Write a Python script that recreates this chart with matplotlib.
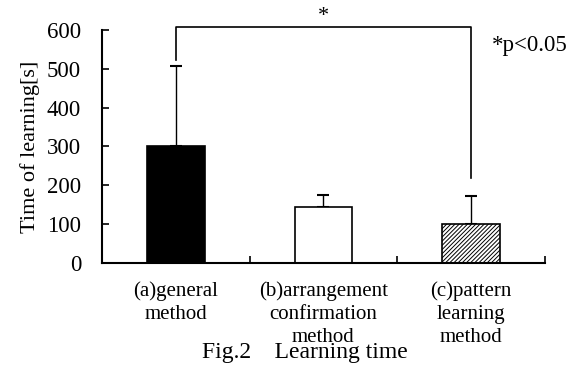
import numpy as np
import matplotlib.pyplot as plt

plt.rcParams['font.family'] = ['Liberation Serif', 'DejaVu Serif']

labels = ["(a)general\nmethod", "(b)arrangement\nconfirmation\nmethod", "(c)pattern\nlearning\nmethod"]
means = [300, 145, 100]
errs = [208, 30, 72]
colors = ["black", "white", "white"]
hatches = [None, None, "////////"]
yticks = [0, 100, 200, 300, 400, 500, 600]

fig = plt.figure(figsize=(5.79, 3.67), dpi=100)
ax = fig.add_axes([0.176, 0.2834, 0.765, 0.635])

x = np.arange(len(means)) + 0.5
plt.rcParams['hatch.color'] = '#555555'
plt.rcParams['hatch.linewidth'] = 0.7
for i in range(len(means)):
    ax.bar(x[i], means[i], width=0.39, color=colors[i], edgecolor="black",
           linewidth=1.2, hatch=hatches[i], zorder=2)
ax.errorbar(x, means, yerr=[np.zeros(3), errs], fmt="none", ecolor="black",
            elinewidth=1.0, capsize=4.5, capthick=1.5, zorder=1)

ax.set_xlim(0, 3)
ax.set_ylim(0, 600)
ax.set_yticks(yticks)
ax.set_xticks([1, 2, 3])
ax.set_xticklabels([])
ax.set_xticks(x, minor=True)
ax.set_xticklabels(labels, minor=True, fontsize=15, linespacing=1.3)
ax.tick_params(axis="x", which="minor", length=0, pad=13)
ax.tick_params(axis="x", which="major", direction="in", length=5, width=1.2)
ax.tick_params(axis="y", direction="in", length=5, width=1.2, labelsize=16.5, pad=15)
ax.spines["top"].set_visible(False)
ax.spines["right"].set_visible(False)
ax.spines["left"].set_linewidth(1.5)
ax.spines["bottom"].set_linewidth(1.5)
ax.set_ylabel("Time of learning[s]", fontsize=16, labelpad=5)

# significance bracket
ax.plot([x[0], x[0], x[2], x[2]], [523, 608, 608, 219], color="black",
        linewidth=1.2, clip_on=False)
ax.text(x[1], 634, "*", ha="center", va="center", fontsize=16)
ax.text(2.64, 560, "*p<0.05", ha="left", va="center", fontsize=16.5)

fig.text(0.526, 0.04, "Fig.2    Learning time", ha="center", va="center", fontsize=17)

plt.savefig("out.png", dpi=100)
